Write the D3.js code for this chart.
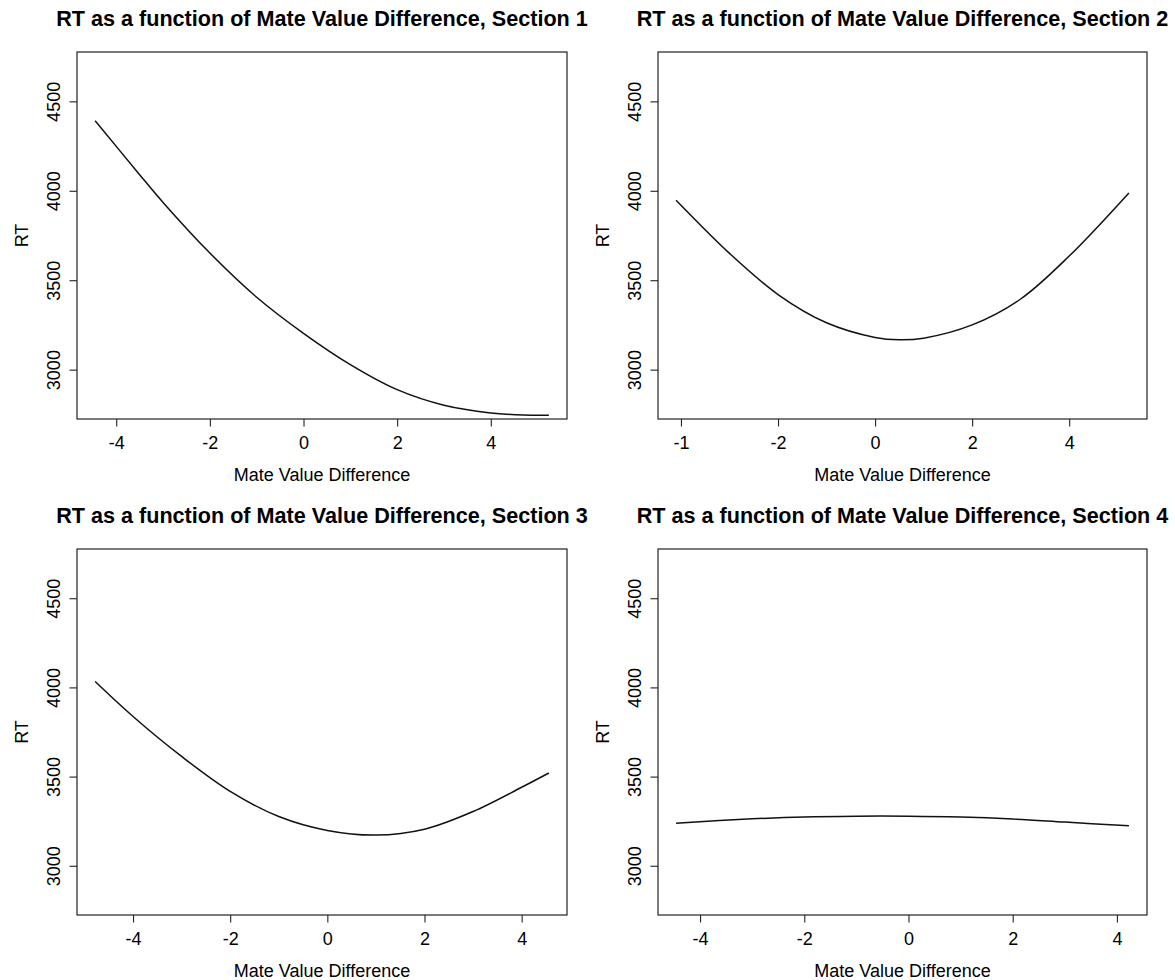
<!DOCTYPE html>
<html>
<head>
<meta charset="utf-8">
<script src="https://cdn.jsdelivr.net/npm/d3@7"></script>
<style>
  html, body { margin: 0; padding: 0; background: #fff; }
  svg { display: block; }
  text { font-family: "Liberation Sans", Arial, Helvetica, sans-serif; fill: #000; }
</style>
</head>
<body>
<svg id="chart" width="1175" height="980"></svg>
<script>
// ---------------- data ----------------
const sectionTitles = [
  "RT as a function of Mate Value Difference, Section 1",
  "RT as a function of Mate Value Difference, Section 2",
  "RT as a function of Mate Value Difference, Section 3",
  "RT as a function of Mate Value Difference, Section 4"
];
const xLabel = "Mate Value Difference";
const yLabel = "RT";

const mvdSection1 = [-4.45, -3.5, -3, -2, -1, 0, 1, 2, 3, 4, 4.7, 5.24];
const rtSection1  = [4392, 4090, 3935, 3652, 3405, 3203, 3028, 2888, 2801, 2758, 2746, 2745];

const mvdSection2 = [-4.1, -3, -2, -1, 0, 0.5, 1, 2, 3, 4, 5.23];
const rtSection2  = [3947, 3650, 3420, 3262, 3180, 3167, 3176, 3250, 3395, 3635, 3988];

const mvdSection3 = [-4.78, -4, -3, -2, -1, 0, 1, 2, 3, 4, 4.56];
const rtSection3  = [4033, 3837, 3613, 3417, 3276, 3198, 3172, 3205, 3304, 3440, 3520];

const mvdSection4 = [-4.46, -3, -2, -1, 0, 1, 2, 3, 4.23];
const rtSection4  = [3239, 3263, 3274, 3278, 3278, 3273, 3262, 3245, 3224];

const xTickValues = [-4, -2, 0, 2, 4];
const xTickLabels = [
  ["-4", "-2", "0", "2", "4"],
  ["-1", "-2", "0", "2", "4"],
  ["-4", "-2", "0", "2", "4"],
  ["-4", "-2", "0", "2", "4"]
];
const yTickValues = [3000, 3500, 4000, 4500];
const yLimits = [2800, 4700];

const sectionsX = [mvdSection1, mvdSection2, mvdSection3, mvdSection4];
const sectionsY = [rtSection1, rtSection2, rtSection3, rtSection4];

// ---------------- layout ----------------
const boxes = [
  { left: 77,  right: 567,  top: 52,  bottom: 419 },
  { left: 658, right: 1147, top: 52,  bottom: 419 },
  { left: 77,  right: 567,  top: 549, bottom: 915 },
  { left: 658, right: 1147, top: 549, bottom: 915 }
];

const svg = d3.select("#chart");
const pad = (lo, hi) => { const r = hi - lo; return [lo - 0.04 * r, hi + 0.04 * r]; };

boxes.forEach((b, i) => {
  const xs = sectionsX[i], ys = sectionsY[i];
  const x = d3.scaleLinear().domain(pad(d3.min(xs), d3.max(xs))).range([b.left, b.right]);
  const y = d3.scaleLinear().domain(pad(yLimits[0], yLimits[1])).range([b.bottom, b.top]);

  const g = svg.append("g");

  // curve
  const pts = xs.map((v, k) => [v, ys[k]]);
  g.append("path")
    .datum(pts)
    .attr("fill", "none")
    .attr("stroke", "#111")
    .attr("stroke-width", 1.5)
    .attr("d", d3.line().x(d => x(d[0])).y(d => y(d[1])).curve(d3.curveCatmullRom.alpha(0.5)));

  // x axis
  const labels = xTickLabels[i];
  const xa = g.append("g")
    .attr("transform", `translate(0,${b.bottom})`)
    .call(d3.axisBottom(x).tickValues(xTickValues).tickSize(7.5).tickSizeOuter(0)
      .tickFormat((d, k) => labels[k]));
  xa.select(".domain").remove();
  xa.selectAll(".tick line").attr("stroke", "#222").attr("stroke-width", 1.1);
  xa.selectAll(".tick text")
    .attr("y", 30).attr("dy", 0)
    .style("font-size", "18px").style("font-family", "'Liberation Sans', Arial, sans-serif")
    .attr("fill", "#000");

  // y axis
  const ya = g.append("g")
    .attr("transform", `translate(${b.left},0)`)
    .call(d3.axisLeft(y).tickValues(yTickValues).tickSize(7.5).tickSizeOuter(0).tickFormat(d3.format("d")));
  ya.select(".domain").remove();
  ya.selectAll(".tick line").attr("stroke", "#222").attr("stroke-width", 1.1);
  ya.selectAll(".tick text")
    .attr("transform", "rotate(-90)")
    .attr("x", 0).attr("y", -17).attr("dy", 0)
    .attr("text-anchor", "middle")
    .style("font-size", "18px").style("font-family", "'Liberation Sans', Arial, sans-serif")
    .attr("fill", "#000");

  // box
  g.append("rect")
    .attr("x", b.left).attr("y", b.top)
    .attr("width", b.right - b.left).attr("height", b.bottom - b.top)
    .attr("fill", "none").attr("stroke", "#222").attr("stroke-width", 1.2);

  // title
  g.append("text")
    .attr("x", (b.left + b.right) / 2).attr("y", b.top - 26.5)
    .attr("text-anchor", "middle")
    .style("font-size", "21.6px").style("font-weight", "bold")
    .text(sectionTitles[i]);

  // x label
  g.append("text")
    .attr("x", (b.left + b.right) / 2).attr("y", b.bottom + 62)
    .attr("text-anchor", "middle")
    .style("font-size", "18px")
    .text(xLabel);

  // y label
  g.append("text")
    .attr("transform", `translate(${b.left - 49},${(b.top + b.bottom) / 2}) rotate(-90)`)
    .attr("text-anchor", "middle")
    .style("font-size", "18px")
    .text(yLabel);
});
</script>
</body>
</html>
